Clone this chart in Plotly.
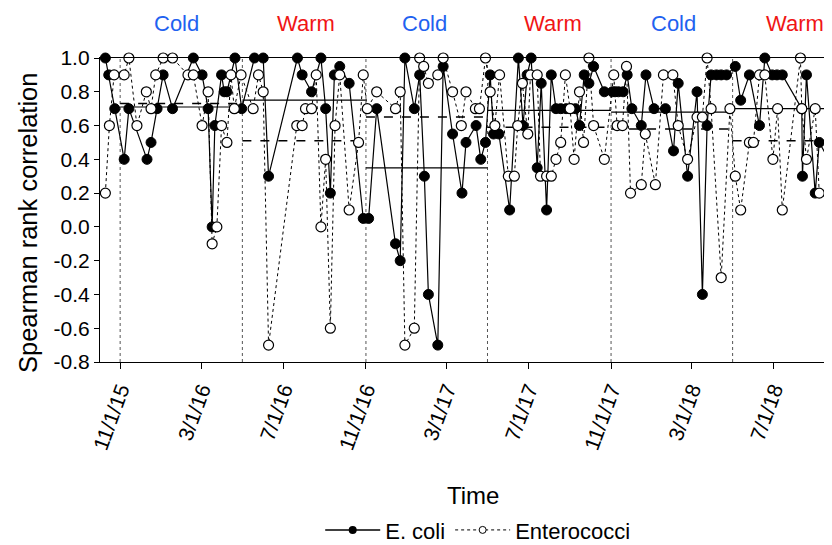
import plotly.graph_objects as go

# ---------------- data ----------------
ecoli_dates = [
    "2015-10-10", "2015-10-15", "2015-10-24", "2015-11-07", "2015-11-14", "2015-12-11", "2015-12-17", "2015-12-26", "2016-01-04", "2016-01-18",
    "2016-02-18", "2016-03-02", "2016-03-11", "2016-03-17", "2016-03-21", "2016-03-31", "2016-04-04", "2016-04-08", "2016-04-20", "2016-04-30",
    "2016-05-19", "2016-06-01", "2016-06-09", "2016-07-22", "2016-07-29", "2016-08-12", "2016-08-26", "2016-09-02", "2016-09-09", "2016-09-15",
    "2016-09-23", "2016-10-07", "2016-10-28", "2016-11-05", "2016-11-17", "2016-12-15", "2016-12-22", "2016-12-29", "2017-01-12", "2017-01-20",
    "2017-01-27", "2017-02-02", "2017-02-16", "2017-02-24", "2017-03-10", "2017-03-24", "2017-03-30", "2017-04-14", "2017-04-21", "2017-04-28",
    "2017-05-05", "2017-05-10", "2017-05-18", "2017-06-03", "2017-06-16", "2017-06-23", "2017-06-29", "2017-07-05", "2017-07-14", "2017-07-20",
    "2017-07-28", "2017-08-04", "2017-08-11", "2017-08-18", "2017-08-26", "2017-09-02", "2017-09-09", "2017-09-15", "2017-09-22", "2017-09-29",
    "2017-10-06", "2017-10-22", "2017-11-03", "2017-11-07", "2017-11-12", "2017-11-19", "2017-11-25", "2017-12-02", "2017-12-16", "2017-12-23",
    "2018-01-04", "2018-01-21", "2018-02-02", "2018-02-09", "2018-02-23", "2018-03-09", "2018-03-17", "2018-03-24", "2018-03-30", "2018-04-07",
    "2018-04-14", "2018-04-22", "2018-05-05", "2018-05-13", "2018-05-26", "2018-06-10", "2018-06-18", "2018-06-29", "2018-07-06", "2018-07-14",
    "2018-08-12", "2018-08-13", "2018-08-19", "2018-09-01", "2018-09-07", "2018-10-05"]
ecoli_values = [
    1.0, 0.9, 0.7, 0.4, 0.7, 0.4, 0.5, 0.7, 0.9, 0.7,
    1.0, 0.9, 0.7, 0.0, 0.6, 0.9, 0.8, 0.8, 1.0, 0.7,
    1.0, 1.0, 0.3, 1.0, 0.9, 0.8, 1.0, 0.7, 0.2, 0.9,
    0.95, 0.85, 0.05, 0.05, 0.7, -0.1, -0.2, 1.0, 0.7, 0.9,
    0.3, -0.4, -0.7, 0.95, 0.55, 0.2, 0.5, 0.6, 0.4, 0.5,
    0.9, 0.55, 0.55, 0.1, 1.0, 0.6, 0.9, 1.0, 0.35, 0.85,
    0.1, 0.9, 0.7, 0.7, 0.7, 0.7, 0.7, 0.6, 0.9, 0.85,
    0.95, 0.8, 0.8, 0.8, 0.8, 0.8, 0.9, 0.7, 0.6, 0.9,
    0.7, 0.7, 0.45, 0.85, 0.3, 0.8, -0.4, 0.6, 0.9, 0.9,
    0.9, 0.9, 0.95, 0.75, 0.9, 0.6, 1.0, 0.9, 0.9, 0.9,
    0.7, 0.3, 0.9, 0.2, 0.5, 0.3]

entero_dates = [
    "2015-10-10", "2015-10-16", "2015-10-23", "2015-11-07", "2015-11-14", "2015-11-26", "2015-12-10", "2015-12-17", "2015-12-24", "2016-01-04",
    "2016-01-18", "2016-02-10", "2016-02-18", "2016-03-02", "2016-03-11", "2016-03-17", "2016-03-24", "2016-03-31", "2016-04-08", "2016-04-14",
    "2016-04-19", "2016-04-29", "2016-05-17", "2016-05-25", "2016-06-01", "2016-06-09", "2016-07-21", "2016-07-29", "2016-08-03", "2016-08-12",
    "2016-08-19", "2016-08-26", "2016-09-02", "2016-09-09", "2016-09-16", "2016-09-23", "2016-10-07", "2016-10-21", "2016-10-28", "2016-11-03",
    "2016-11-17", "2016-12-15", "2016-12-22", "2016-12-29", "2017-01-12", "2017-01-20", "2017-01-26", "2017-02-02", "2017-02-16", "2017-02-24",
    "2017-03-10", "2017-03-23", "2017-03-30", "2017-04-13", "2017-04-19", "2017-04-28", "2017-05-05", "2017-05-12", "2017-05-19", "2017-06-01",
    "2017-06-10", "2017-06-15", "2017-06-22", "2017-06-30", "2017-07-04", "2017-07-14", "2017-07-19", "2017-07-28", "2017-08-04", "2017-08-11",
    "2017-08-18", "2017-08-25", "2017-09-01", "2017-09-07", "2017-09-15", "2017-09-21", "2017-09-29", "2017-10-06", "2017-10-22", "2017-11-05",
    "2017-11-10", "2017-11-18", "2017-11-24", "2017-11-30", "2017-12-16", "2017-12-22", "2018-01-06", "2018-01-18", "2018-02-01", "2018-02-09",
    "2018-02-23", "2018-03-09", "2018-03-17", "2018-03-24", "2018-03-30", "2018-04-14", "2018-04-27", "2018-05-05", "2018-05-13", "2018-05-26",
    "2018-06-01", "2018-06-10", "2018-06-18", "2018-06-30", "2018-07-07", "2018-07-14", "2018-08-10", "2018-08-12", "2018-08-19", "2018-09-01",
    "2018-09-07", "2018-10-08"]
entero_values = [
    0.2, 0.6, 0.9, 0.9, 1.0, 0.6, 0.8, 0.7, 0.9, 1.0,
    1.0, 0.9, 0.9, 0.6, 0.8, -0.1, 0.0, 0.6, 0.5, 0.9,
    0.7, 0.9, 0.7, 0.9, 0.8, -0.7, 0.6, 0.6, 0.7, 0.7,
    0.9, 0.0, 0.4, -0.6, 0.6, 0.9, 0.1, 0.5, 0.9, 0.7,
    0.8, 0.7, 0.8, -0.7, -0.6, 1.0, 0.95, 0.85, 0.9, 1.0,
    0.8, 0.6, 0.8, 0.7, 0.7, 1.0, 0.8, 0.6, 0.9, 0.3,
    0.3, 0.6, 0.85, 0.55, 0.9, 0.9, 0.3, 0.3, 0.3, 0.4,
    0.5, 0.9, 0.7, 0.4, 0.8, 0.5, 1.0, 0.6, 0.4, 0.9,
    0.6, 0.6, 0.95, 0.2, 0.25, 0.55, 0.25, 0.9, 0.9, 0.6,
    0.4, 0.65, 0.65, 1.0, 0.7, -0.3, 0.7, 0.3, 0.1, 0.5,
    0.5, 0.9, 0.9, 0.4, 0.7, 0.1, 1.0, 0.7, 0.4, 0.7,
    0.2, 0.12]

# seasons: boundaries, labels and seasonal means
season_starts = ["2015-11-01", "2016-05-01", "2016-11-01", "2017-05-01", "2017-11-01", "2018-05-01"]
season_ends = ["2016-05-01", "2016-11-01", "2017-05-01", "2017-11-01", "2018-05-01", "2018-11-01"]
season_names = ["Cold", "Warm", "Cold", "Warm", "Cold", "Warm"]
season_label_dates = ["2016-01-24", "2016-08-03", "2017-01-27", "2017-08-07", "2018-02-02", "2018-08-02"]
ecoli_season_means = [0.71, 0.75, 0.35, 0.69, 0.68, 0.70]
entero_season_means = [0.73, 0.51, 0.65, 0.59, 0.58, 0.51]

tick_dates = ["2015-11-01", "2016-03-01", "2016-07-01", "2016-11-01", "2017-03-01",
              "2017-07-01", "2017-11-01", "2018-03-01", "2018-07-01"]
tick_labels = ["11/1/15", "3/1/16", "7/1/16", "11/1/16", "3/1/17",
               "7/1/17", "11/1/17", "3/1/18", "7/1/18"]
y_ticks = [-0.8, -0.6, -0.4, -0.2, 0.0, 0.2, 0.4, 0.6, 0.8, 1.0]
y_tick_labels = ["-0.8", "-0.6", "-0.4", "-0.2", "0.0", "0.2", "0.4", "0.6", "0.8", "1.0"]

x_range = ["2015-10-02", "2018-09-26"]

FONT = "Liberation Sans, Arial, sans-serif"
season_colors = {"Cold": "#1f62f0", "Warm": "#f01515"}

fig = go.Figure()

# data traces
fig.add_trace(go.Scatter(
    x=ecoli_dates, y=ecoli_values, mode="lines+markers", name="E. coli",
    line=dict(color="black", width=1.2),
    marker=dict(symbol="circle", size=10, color="black", line=dict(color="black", width=1)),
    showlegend=False, cliponaxis=False))
fig.add_trace(go.Scatter(
    x=entero_dates, y=entero_values, mode="lines+markers", name="Enterococci",
    line=dict(color="black", width=1, dash="dot"),
    marker=dict(symbol="circle", size=10, color="white", line=dict(color="black", width=1.2)),
    showlegend=False, cliponaxis=False))

# legend-only entries (smaller symbols like the reference)
fig.add_trace(go.Scatter(
    x=[None], y=[None], mode="lines+markers", name="E. coli",
    line=dict(color="black", width=1.5),
    marker=dict(symbol="circle", size=8, color="black")))
fig.add_trace(go.Scatter(
    x=[None], y=[None], mode="lines+markers", name="Enterococci",
    line=dict(color="black", width=1, dash="dot"),
    marker=dict(symbol="circle", size=7, color="white", line=dict(color="black", width=1))))

shapes = []
# season boundary dotted verticals
for d in season_starts:
    shapes.append(dict(type="line", xref="x", yref="y", x0=d, x1=d, y0=-0.8, y1=1.0,
                       line=dict(color="#555555", width=1, dash="dot"), layer="below"))
# seasonal mean lines
for s, e, m1, m2 in zip(season_starts, season_ends, ecoli_season_means, entero_season_means):
    shapes.append(dict(type="line", xref="x", yref="y", x0=s, x1=e, y0=m1, y1=m1,
                       line=dict(color="black", width=1.2), layer="below"))
    shapes.append(dict(type="line", xref="x", yref="y", x0=s, x1=e, y0=m2, y1=m2,
                       line=dict(color="black", width=1.5, dash="dash"), layer="below"))

annotations = []
for name, d in zip(season_names, season_label_dates):
    annotations.append(dict(x=d, y=1.115, xref="x", yref="paper", text=name, showarrow=False,
                            font=dict(family=FONT, size=22, color=season_colors[name]),
                            xanchor="center", yanchor="middle"))
annotations.append(dict(x=-0.0984, y=0.457, xref="paper", yref="paper", text="Spearman rank correlation",
                        textangle=-90, showarrow=False, font=dict(family=FONT, size=25.5, color="black"),
                        xanchor="center", yanchor="middle"))
annotations.append(dict(x=0.5096, y=-0.4375, xref="paper", yref="paper", text="Time",
                        showarrow=False, font=dict(family=FONT, size=24, color="black"),
                        xanchor="center", yanchor="middle"))

# the page adds an 8px body margin, so the figure is 8px smaller than the window
fig.update_layout(
    width=824, height=537,
    margin=dict(l=92, r=0, t=50, b=183, autoexpand=False),
    paper_bgcolor="white", plot_bgcolor="white",
    font=dict(family=FONT, color="black"),
    shapes=shapes, annotations=annotations,
    legend=dict(orientation="h", x=0.516, y=-0.553, xanchor="center", yanchor="middle",
                font=dict(family=FONT, size=22, color="black"), itemwidth=55,
                bgcolor="rgba(0,0,0,0)", tracegroupgap=0),
)
fig.update_xaxes(
    type="date", range=x_range, tickvals=tick_dates, ticktext=tick_labels, tickangle=-70,
    tickfont=dict(family=FONT, size=21, color="black"),
    showline=True, linecolor="black", linewidth=1.3, mirror=True,
    ticks="outside", ticklen=6, tickwidth=1.3, tickcolor="black",
    showgrid=False, zeroline=False)
fig.update_yaxes(
    range=[-0.8, 1.0], tickvals=y_ticks, ticktext=y_tick_labels,
    tickfont=dict(family=FONT, size=21, color="black"),
    showline=True, linecolor="black", linewidth=1.3,
    ticks="outside", ticklen=5, tickwidth=1.3, tickcolor="black",
    showgrid=False, zeroline=False)

fig.write_html("out.html")
